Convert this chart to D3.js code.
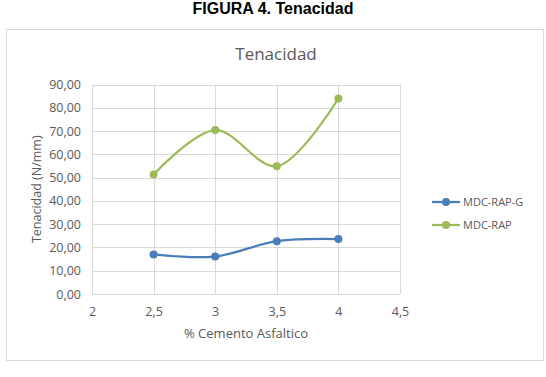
<!DOCTYPE html>
<html><head><meta charset="utf-8">
<script src="https://cdn.jsdelivr.net/npm/d3@7"></script>
<style>body{margin:0;background:#fff}svg{display:block}</style>
</head><body>
<svg id="c" width="546" height="377"></svg>
<script>
const xValues = [2.5, 3, 3.5, 4];
const seriesNames = ["MDC-RAP-G", "MDC-RAP"];
const mdcRapG = [17.0, 16.1, 22.7, 23.6];
const mdcRap = [51.3, 70.4, 54.9, 84.0];
const xTicks = [2, 2.5, 3, 3.5, 4, 4.5];
const yTicks = [0, 10, 20, 30, 40, 50, 60, 70, 80, 90];
const colors = ["#4a7ebb", "#9bbb59"];

const svg = d3.select("#c");
const font = "Open Sans, Liberation Sans, sans-serif";
const fmtX = d => String(d).replace(".", ",");
const fmtY = d => d.toFixed(2).replace(".", ",");

svg.append("text").attr("x", 273).attr("y", 14).attr("text-anchor", "middle")
  .attr("font-family", "Liberation Sans, Arial, sans-serif").attr("font-weight", "bold")
  .attr("font-size", 16).attr("fill", "#000").text("FIGURA 4. Tenacidad");

svg.append("rect").attr("x", 6.5).attr("y", 29.5).attr("width", 537).attr("height", 331)
  .attr("fill", "#fff").attr("stroke", "#d9d9d9");

const x = d3.scaleLinear().domain([2, 4.5]).range([92, 400]);
const y = d3.scaleLinear().domain([0, 90]).range([294, 84.5]);

const g = svg.append("g");
g.append("g").selectAll("line").data(yTicks).join("line")
  .attr("x1", x(2)).attr("x2", x(4.5)).attr("y1", d => Math.round(y(d)) + 0.5).attr("y2", d => Math.round(y(d)) + 0.5)
  .attr("stroke", "#d9d9d9");
g.append("g").selectAll("line").data(xTicks).join("line")
  .attr("y1", y(0)).attr("y2", y(90)).attr("x1", d => Math.round(x(d)) + 0.5).attr("x2", d => Math.round(x(d)) + 0.5)
  .attr("stroke", "#d9d9d9");

const yAxis = d3.axisLeft(y).tickValues(yTicks).tickFormat(fmtY).tickSize(0).tickPadding(11);
const ya = svg.append("g").attr("transform", `translate(${x(2)},0)`).call(yAxis);
ya.select(".domain").remove();
ya.selectAll("text").attr("font-family", font).attr("font-size", 12.5).attr("fill", "#595959");

const xAxis = d3.axisBottom(x).tickValues(xTicks).tickFormat(fmtX).tickSize(0).tickPadding(13);
const xa = svg.append("g").attr("transform", `translate(0,${y(0)})`).call(xAxis);
xa.select(".domain").remove();
xa.selectAll("text").attr("font-family", font).attr("font-size", 12.5).attr("fill", "#595959");

svg.append("text").attr("x", 276).attr("y", 60).attr("text-anchor", "middle")
  .attr("font-family", font).attr("font-size", 17).attr("fill", "#595959").text("Tenacidad");
svg.append("text").attr("x", 246).attr("y", 338).attr("text-anchor", "middle")
  .attr("font-family", font).attr("font-size", 13).attr("fill", "#595959").text("% Cemento Asfaltico");
svg.append("text").attr("transform", `translate(41,${y(45)}) rotate(-90)`).attr("text-anchor", "middle")
  .attr("font-family", font).attr("font-size", 12.5).attr("fill", "#595959").text("Tenacidad (N/mm)");

const line = d3.line().x((d, i) => x(xValues[i])).y(d => y(d)).curve(d3.curveCatmullRom.alpha(0.5));
[mdcRapG, mdcRap].forEach((s, k) => {
  svg.append("path").datum(s).attr("d", line).attr("fill", "none")
    .attr("stroke", colors[k]).attr("stroke-width", 2.25);
  svg.append("g").selectAll("circle").data(s).join("circle")
    .attr("cx", (d, i) => x(xValues[i])).attr("cy", d => y(d)).attr("r", 4).attr("fill", colors[k]);
});

const lg = svg.append("g");
seriesNames.forEach((n, k) => {
  const yy = 202 + k * 23;
  lg.append("line").attr("x1", 432).attr("x2", 460).attr("y1", yy).attr("y2", yy)
    .attr("stroke", colors[k]).attr("stroke-width", 2.25);
  lg.append("circle").attr("cx", 446).attr("cy", yy).attr("r", 4).attr("fill", colors[k]);
  lg.append("text").attr("x", 463).attr("y", yy + 4).attr("font-family", font).attr("font-size", 11)
    .attr("fill", "#595959").text(n);
});
</script>
</body></html>
